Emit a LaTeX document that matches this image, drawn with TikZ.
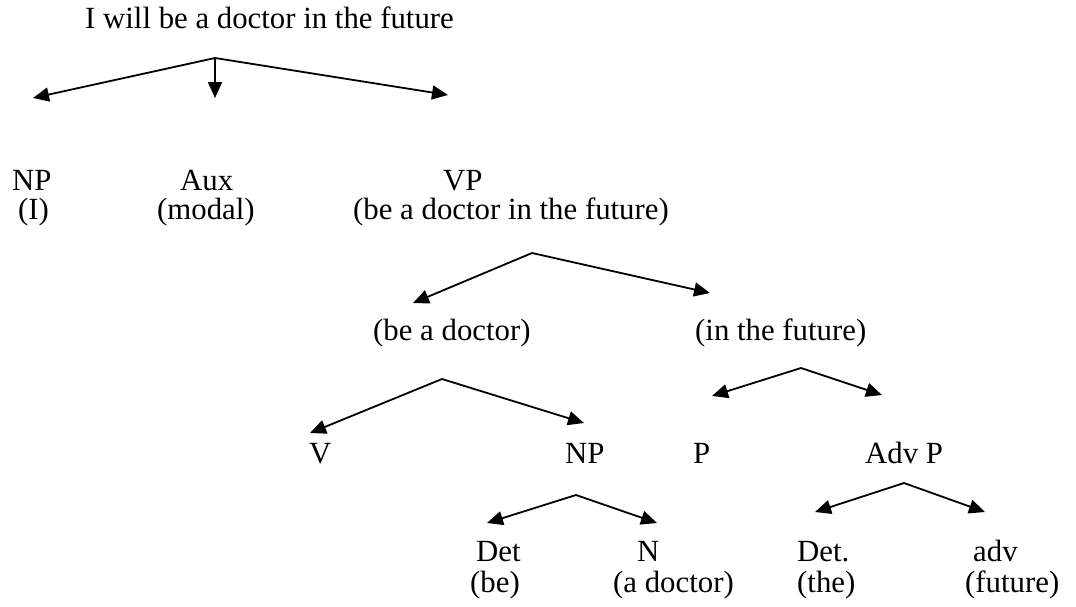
\documentclass[tikz,border=0pt]{standalone}
\usepackage{fontspec}
\setmainfont{Liberation Serif}
\usetikzlibrary{arrows.meta}
\tikzset{
  lbl/.style={anchor=base west, inner sep=0pt, font=\fontsize{30.8}{30.8}\selectfont},
  arr/.style={line width=1.8pt, -{Triangle[length=16pt,width=14pt]}}
}
\begin{document}
\begin{tikzpicture}[x=1pt,y=-1pt]
\useasboundingbox (0,0) rectangle (1076,606);
% texts
\node[lbl] (s) at (85,28) {I will be a doctor in the future};
\node[lbl] (np) at (12,190) {NP};
\node[lbl] (npi) at (18,219) {(I)};
\node[lbl] (aux) at (180,190) {Aux};
\node[lbl] (auxm) at (157,219) {(modal)};
\node[lbl] (vp) at (443,190) {VP};
\node[lbl] (vpt) at (353,219) {(be a doctor in the future)};
\node[lbl] (bad) at (373,340) {(be a doctor)};
\node[lbl] (itf) at (695,340) {(in the future)};
\node[lbl] (v) at (309,463) {V};
\node[lbl] (np2) at (565,463) {NP};
\node[lbl] (p) at (693,463) {P};
\node[lbl] (advp) at (865,463) {Adv P};
\node[lbl] (det) at (476,561) {Det};
\node[lbl] (be) at (470,592) {(be)};
\node[lbl] (n) at (637,561) {N};
\node[lbl] (adoc) at (613,592) {(a doctor)};
\node[lbl] (det2) at (797,561) {Det.};
\node[lbl] (the) at (797,592) {(the)};
\node[lbl] (adv) at (973,561) {adv};
\node[lbl] (fut) at (965,592) {(future)};
% apex and tip coordinates
\coordinate (a1) at (215,58);
\coordinate (t1l) at (33,98);
\coordinate (t1m) at (215,98);
\coordinate (t1r) at (448,95);
\coordinate (a2) at (532,253);
\coordinate (t2l) at (413,303);
\coordinate (t2r) at (710,293);
\coordinate (a3) at (442,379);
\coordinate (t3l) at (310,433);
\coordinate (t3r) at (584,423);
\coordinate (a4) at (801,368);
\coordinate (t4l) at (712,396);
\coordinate (t4r) at (882,395);
\coordinate (a5) at (576,495);
\coordinate (t5l) at (487,523);
\coordinate (t5r) at (657,523);
\coordinate (a6) at (904,483);
\coordinate (t6l) at (815,512);
\coordinate (t6r) at (985,512);
% connectors
\draw[arr] (a1) -- (t1l);
\draw[arr] (a1) -- (t1m);
\draw[arr] (a1) -- (t1r);
\draw[arr] (a2) -- (t2l);
\draw[arr] (a2) -- (t2r);
\draw[arr] (a3) -- (t3l);
\draw[arr] (a3) -- (t3r);
\draw[arr] (a4) -- (t4l);
\draw[arr] (a4) -- (t4r);
\draw[arr] (a5) -- (t5l);
\draw[arr] (a5) -- (t5r);
\draw[arr] (a6) -- (t6l);
\draw[arr] (a6) -- (t6r);
\end{tikzpicture}
\end{document}
